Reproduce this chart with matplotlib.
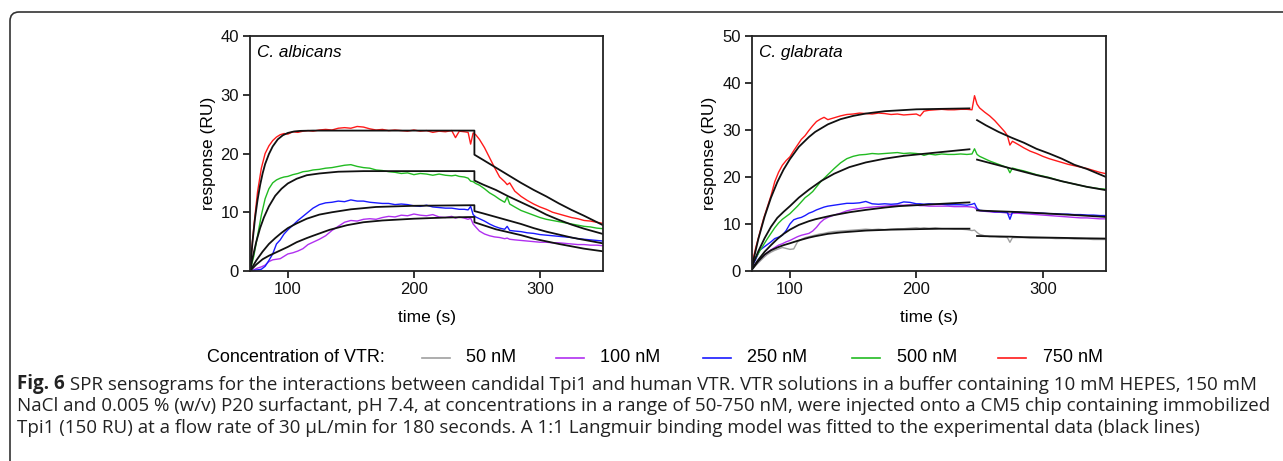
import matplotlib
matplotlib.use("Agg")
import matplotlib.pyplot as plt
from matplotlib.patches import FancyBboxPatch
from matplotlib.lines import Line2D
from matplotlib.text import Annotation

# ---------------- data ----------------
conc_labels = ["50 nM", "100 nM", "250 nM", "500 nM", "750 nM"]
conc_colors = ["#a0a0a0", "#b030f0", "#1a1aff", "#22bb22", "#ff1a1a"]

# Left panel: C. albicans -- experimental traces
T_L = [70, 73, 76, 79, 82, 85, 88, 91, 94, 97, 100, 104, 108, 112, 116, 120,
       125, 130, 135, 140, 145, 150, 155, 160, 165, 170, 175, 180, 185, 190,
       195, 200, 205, 210, 215, 220, 225, 230, 233, 236, 240, 243, 245, 247,
       249, 252, 256, 260, 264, 268, 272, 274, 276, 280, 285, 290, 295, 300,
       305, 310, 315, 320, 325, 330, 335, 340, 345, 350]
alb_750 = [0.2, 7.5, 13.5, 17.5, 20.0, 21.3, 22.2, 22.8, 23.2, 23.4, 23.3, 23.7,
           23.6, 23.8, 23.9, 23.8, 24.0, 24.1, 24.0, 24.3, 24.4, 24.3, 24.6, 24.5,
           24.2, 24.0, 24.1, 23.9, 24.0, 23.9, 23.8, 24.0, 23.8, 23.9, 23.6, 23.8,
           23.7, 23.9, 22.7, 23.8, 23.7, 23.6, 21.6, 23.5, 23.2, 22.4, 21.0, 19.3,
           17.6, 16.0, 15.2, 14.7, 15.0, 13.6, 12.7, 12.0, 11.4, 10.9, 10.5, 10.0,
           9.7, 9.4, 9.1, 8.9, 8.6, 8.5, 8.3, 8.1]
alb_500 = [0.0, 2.5, 6.0, 9.5, 12.3, 14.0, 15.0, 15.5, 15.8, 16.0, 16.1, 16.4,
           16.6, 16.9, 17.0, 17.2, 17.3, 17.5, 17.6, 17.8, 18.0, 18.1, 17.8, 17.6,
           17.5, 17.2, 17.1, 16.9, 16.8, 16.6, 16.7, 16.4, 16.6, 16.5, 16.3, 16.5,
           16.3, 16.2, 16.3, 16.1, 16.0, 15.8, 15.3, 15.2, 14.9, 14.6, 14.0, 13.3,
           12.8, 12.2, 11.7, 12.6, 11.4, 10.9, 10.3, 9.9, 9.5, 9.1, 8.8, 8.6, 8.4,
           8.2, 8.0, 7.8, 7.6, 7.5, 7.3, 7.2]
alb_250 = [0.0, 0.1, 0.2, 0.3, 0.8, 1.8, 2.9, 4.6, 5.3, 6.3, 7.0, 7.8, 8.6, 9.3,
           10.0, 10.7, 11.3, 11.6, 11.7, 11.9, 11.8, 12.1, 11.9, 11.9, 11.7, 11.6,
           11.5, 11.5, 11.3, 11.4, 11.3, 11.1, 11.0, 11.2, 10.9, 10.8, 10.7, 10.7,
           10.6, 10.5, 10.5, 10.4, 11.0, 9.6, 9.2, 8.9, 8.5, 8.0, 7.6, 7.3, 7.1,
           7.6, 6.9, 6.8, 6.7, 6.5, 6.4, 6.2, 6.1, 6.0, 5.9, 5.8, 5.7, 5.5, 5.4,
           5.3, 5.2, 5.1]
alb_100 = [0.0, 0.2, 0.5, 0.7, 1.0, 1.6, 1.9, 2.0, 2.1, 2.5, 2.9, 3.1, 3.4, 3.8,
           4.5, 4.9, 5.4, 6.0, 6.9, 7.6, 8.3, 8.6, 8.5, 8.8, 8.9, 8.8, 9.1, 9.3,
           9.2, 9.5, 9.4, 9.7, 9.5, 9.4, 9.6, 9.2, 9.1, 9.3, 9.0, 9.2, 9.0, 8.8,
           9.0, 8.0, 7.5, 6.8, 6.3, 6.0, 5.8, 5.7, 5.5, 5.6, 5.4, 5.3, 5.2, 5.1,
           5.0, 4.9, 4.9, 4.8, 4.8, 4.7, 4.6, 4.5, 4.5, 4.4, 4.4, 4.3]

# Left panel: 1:1 Langmuir fits (association / dissociation)
alb_fit750_t = [70, 72, 74, 76, 78, 80, 82, 85, 88, 92, 96, 100, 105, 110, 120, 130, 150, 248]
alb_fit750_y = [0, 5.0, 9.0, 12.1, 14.6, 16.6, 18.2, 19.9, 21.2, 22.4, 23.1, 23.5,
                23.75, 23.85, 23.9, 23.9, 23.9, 23.9]
alb_fit500_t = [70, 72, 75, 78, 81, 85, 90, 95, 100, 107, 115, 125, 140, 160, 248]
alb_fit500_y = [0, 2.2, 5.0, 7.3, 9.1, 11.0, 12.8, 14.0, 14.9, 15.7, 16.3, 16.6, 16.9, 17.0, 17.0]
alb_fit250_t = [70, 75, 80, 85, 90, 95, 100, 107, 115, 125, 135, 150, 170, 200, 248]
alb_fit250_y = [0, 1.8, 3.3, 4.6, 5.6, 6.5, 7.3, 8.1, 8.9, 9.6, 10.0, 10.5, 10.9, 11.1, 11.2]
alb_fit100_t = [70, 75, 80, 85, 90, 95, 100, 107, 115, 120, 133, 147, 160, 175, 200, 225, 248]
alb_fit100_y = [0, 1.1, 2.0, 2.6, 3.1, 3.6, 4.1, 4.9, 5.6, 6.0, 7.0, 7.8, 8.3, 8.6, 8.9, 9.1, 9.2]
alb_diss_t = [248, 255, 265, 275, 285, 295, 305, 315, 325, 335, 350]
alb_diss750 = [19.8, 18.9, 17.6, 16.3, 15.0, 13.8, 12.7, 11.5, 10.4, 9.4, 7.8]
alb_diss500 = [15.4, 14.7, 13.8, 12.7, 11.7, 10.7, 9.6, 8.7, 7.9, 7.2, 6.3]
alb_diss250 = [10.2, 9.8, 9.2, 8.6, 8.0, 7.3, 6.7, 6.2, 5.7, 5.3, 4.7]
alb_diss100 = [8.3, 7.8, 7.1, 6.6, 6.1, 5.5, 5.05, 4.6, 4.2, 3.8, 3.35]

# Right panel: C. glabrata -- experimental traces
T_R = [70, 73, 76, 79, 82, 85, 88, 91, 94, 97, 100, 103, 106, 109, 112, 115, 118,
       121, 124, 127, 130, 135, 140, 145, 150, 155, 160, 165, 170, 175, 180, 185,
       190, 195, 200, 203, 206, 210, 215, 220, 225, 230, 235, 240, 244, 246, 248,
       250, 254, 258, 262, 266, 270, 272, 274, 276, 280, 285, 290, 295, 300, 305,
       310, 315, 320, 325, 330, 335, 340, 345, 350]
gla_750 = [1.5, 5.0, 8.0, 11.0, 13.5, 16.0, 19.0, 21.0, 22.5, 23.5, 24.3, 25.6,
           26.8, 28.0, 28.8, 29.9, 30.9, 31.8, 32.3, 32.7, 32.2, 32.6, 33.0, 33.3,
           33.4, 33.6, 33.5, 33.4, 33.6, 33.5, 33.3, 33.4, 33.2, 33.3, 33.4, 33.0,
           34.0, 34.2, 34.3, 34.4, 34.3, 34.3, 34.4, 34.4, 34.3, 37.3, 35.5, 34.7,
           33.8, 33.0, 32.0, 30.8, 29.6, 28.8, 26.8, 27.6, 27.0, 26.2, 25.5, 25.0,
           24.4, 23.9, 23.5, 23.1, 22.7, 22.4, 22.1, 21.8, 21.4, 21.0, 20.7]
gla_500 = [1.5, 2.8, 4.2, 5.5, 6.8, 8.0, 9.2, 10.2, 11.0, 11.6, 12.2, 13.0, 13.8,
           14.7, 15.6, 16.2, 16.9, 17.9, 18.9, 19.7, 20.5, 21.8, 23.0, 23.9, 24.4,
           24.7, 24.8, 25.0, 24.9, 25.0, 25.1, 25.2, 25.0, 25.1, 25.0, 24.9, 24.6,
           24.9, 24.7, 24.9, 24.8, 24.8, 24.9, 24.8, 24.9, 26.0, 24.8, 24.4, 23.9,
           23.4, 23.0, 22.6, 22.2, 22.0, 20.9, 21.9, 21.6, 21.3, 20.9, 20.5, 20.2,
           19.9, 19.5, 19.1, 18.8, 18.5, 18.2, 17.9, 17.7, 17.5, 17.4]
gla_250 = [1.0, 2.5, 4.4, 5.0, 5.6, 6.2, 6.9, 7.2, 7.6, 8.6, 10.0, 10.9, 11.2,
           11.4, 11.8, 12.3, 12.6, 13.0, 13.3, 13.6, 13.8, 14.0, 14.2, 14.4, 14.4,
           14.5, 14.8, 14.3, 14.2, 14.3, 14.2, 14.3, 14.7, 14.6, 14.3, 14.3, 14.2,
           14.3, 14.2, 14.2, 14.1, 14.1, 14.1, 14.0, 14.2, 14.4, 13.3, 12.9, 12.8,
           12.7, 12.6, 12.6, 12.5, 12.4, 11.0, 12.5, 12.5, 12.4, 12.4, 12.3, 12.3,
           12.2, 12.2, 12.1, 12.1, 12.0, 12.0, 11.9, 11.9, 11.8, 11.8]
gla_100 = [0.5, 1.5, 2.4, 3.2, 3.9, 4.5, 5.0, 5.5, 5.8, 6.2, 6.5, 6.9, 7.3, 7.6,
           7.8, 8.0, 8.5, 9.3, 10.3, 11.0, 11.4, 11.9, 12.3, 12.8, 13.1, 13.3,
           13.5, 13.6, 13.7, 13.8, 13.9, 14.0, 14.0, 14.1, 14.0, 13.9, 13.9, 13.8,
           13.8, 13.8, 13.8, 13.7, 13.7, 13.7, 13.6, 13.5, 13.0, 12.8, 12.7, 12.6,
           12.5, 12.5, 12.4, 12.4, 12.0, 12.3, 12.3, 12.2, 12.1, 12.0, 11.9, 11.8,
           11.7, 11.6, 11.5, 11.4, 11.3, 11.3, 11.2, 11.1, 11.1]
gla_50 = [0.3, 1.2, 2.0, 2.8, 3.5, 4.0, 4.4, 4.7, 5.0, 4.8, 4.6, 4.7, 6.2, 6.7,
          7.1, 7.3, 7.5, 7.7, 7.9, 8.0, 8.2, 8.4, 8.5, 8.6, 8.7, 8.8, 8.9, 8.8,
          8.9, 8.8, 8.9, 9.0, 9.0, 9.1, 9.2, 9.1, 9.2, 9.1, 9.2, 9.0, 9.0, 8.9,
          8.9, 8.8, 8.6, 8.7, 8.2, 7.8, 7.5, 7.3, 7.3, 7.2, 7.2, 7.1, 6.1, 7.1,
          7.1, 7.1, 7.0, 7.0, 7.0, 7.0, 6.9, 6.9, 6.9, 6.8, 6.8, 6.8, 6.7, 6.7, 6.7]

# Right panel fits
gla_fit750_t = [70, 75, 80, 85, 90, 95, 100, 107, 115, 120, 130, 140, 150, 160, 175, 200, 220, 242]
gla_fit750_y = [1.0, 6.8, 11.6, 15.6, 18.9, 21.6, 23.8, 26.4, 28.5, 29.6, 31.2,
                32.3, 33.0, 33.5, 34.0, 34.4, 34.5, 34.6]
gla_fit500_t = [70, 75, 80, 85, 90, 95, 100, 107, 115, 125, 135, 147, 160, 175, 190, 212, 242]
gla_fit500_y = [1.0, 4.2, 7.0, 9.4, 11.3, 12.6, 13.8, 15.6, 17.3, 19.2, 20.7,
                22.1, 23.1, 23.9, 24.5, 25.1, 25.9]
gla_fit250_t = [70, 75, 80, 85, 90, 95, 100, 107, 115, 120, 133, 147, 160, 175, 186, 200, 213, 242]
gla_fit250_y = [0.5, 2.4, 4.1, 5.5, 6.8, 7.9, 8.8, 9.8, 10.6, 11.0, 11.8, 12.5,
                13.0, 13.5, 13.8, 14.0, 14.2, 14.6]
gla_fit50_t = [70, 75, 80, 85, 90, 95, 100, 107, 115, 120, 130, 140, 160, 180, 200, 220, 242]
gla_fit50_y = [0.3, 2.1, 3.5, 4.4, 5.0, 5.5, 5.9, 6.5, 7.1, 7.4, 7.9, 8.2, 8.6,
               8.8, 8.9, 9.0, 9.0]
gla_diss_t = [248, 255, 265, 275, 285, 295, 305, 315, 325, 335, 350]
gla_diss750 = [32.1, 31.0, 29.6, 28.4, 27.3, 26.0, 25.0, 23.9, 22.6, 21.7, 20.0]
gla_diss500 = [23.7, 23.2, 22.5, 21.8, 21.1, 20.4, 19.8, 19.1, 18.5, 17.9, 17.2]
gla_diss250 = [12.9, 12.8, 12.7, 12.6, 12.5, 12.35, 12.2, 12.05, 11.9, 11.75, 11.5]
gla_diss50 = [7.45, 7.4, 7.35, 7.3, 7.2, 7.15, 7.1, 7.05, 7.0, 6.95, 6.9]

x_ticks = [100, 200, 300]
alb_yticks = [0, 10, 20, 30, 40]
gla_yticks = [0, 10, 20, 30, 40, 50]

caption_bold = "Fig. 6"
caption_lines = [
    " SPR sensograms for the interactions between candidal Tpi1 and human VTR. VTR solutions in a buffer containing 10 mM HEPES, 150 mM",
    "NaCl and 0.005 % (w/v) P20 surfactant, pH 7.4, at concentrations in a range of 50-750 nM, were injected onto a CM5 chip containing immobilized",
    "Tpi1 (150 RU) at a flow rate of 30 \u00b5L/min for 180 seconds. A 1:1 Langmuir binding model was fitted to the experimental data (black lines)",
]

# ---------------- figure ----------------
W, H = 1283, 461
fig = plt.figure(figsize=(W / 100, H / 100), dpi=100)
SANS = ["Liberation Sans", "DejaVu Sans"]

# frame around figure (rounded top-left corner)
frame = FancyBboxPatch((0.10, -1.0), 14.0, (H - 12) / 100 + 1.0,
                       boxstyle="round,pad=0,rounding_size=0.09",
                       transform=fig.dpi_scale_trans, fill=False,
                       edgecolor="#333333", linewidth=1.2)
fig.patches.append(frame)

ax1 = fig.add_axes([250 / W, 190 / H, 353 / W, 235 / H])
ax2 = fig.add_axes([752 / W, 190 / H, 354 / W, 235 / H])

DLW = 1.0
FLW = 1.3
# left panel
ax1.plot(T_L, alb_100, color=conc_colors[1], lw=DLW)
ax1.plot(T_L, alb_250, color=conc_colors[2], lw=DLW)
ax1.plot(T_L, alb_500, color=conc_colors[3], lw=DLW)
ax1.plot(T_L, alb_750, color=conc_colors[4], lw=DLW)
for ft, fy, dy in [(alb_fit750_t, alb_fit750_y, alb_diss750),
                   (alb_fit500_t, alb_fit500_y, alb_diss500),
                   (alb_fit250_t, alb_fit250_y, alb_diss250),
                   (alb_fit100_t, alb_fit100_y, alb_diss100)]:
    ax1.plot(list(ft) + list(alb_diss_t), list(fy) + list(dy), color="#111111", lw=FLW)

# right panel
ax2.plot(T_R, gla_50, color=conc_colors[0], lw=DLW)
ax2.plot(T_R, gla_100, color=conc_colors[1], lw=DLW)
ax2.plot(T_R, gla_250, color=conc_colors[2], lw=DLW)
ax2.plot(T_R, gla_500, color=conc_colors[3], lw=DLW)
ax2.plot(T_R, gla_750, color=conc_colors[4], lw=DLW)
for ft, fy, dy in [(gla_fit750_t, gla_fit750_y, gla_diss750),
                   (gla_fit500_t, gla_fit500_y, gla_diss500),
                   (gla_fit250_t, gla_fit250_y, gla_diss250),
                   (gla_fit50_t, gla_fit50_y, gla_diss50)]:
    ax2.plot(ft, fy, color="#111111", lw=FLW)
    ax2.plot(gla_diss_t, dy, color="#111111", lw=FLW)

for ax, yt, title in [(ax1, alb_yticks, "C. albicans"), (ax2, gla_yticks, "C. glabrata")]:
    ax.set_xlim(70, 350)
    ax.set_ylim(yt[0], yt[-1])
    ax.set_xticks(x_ticks)
    ax.set_yticks(yt)
    ax.tick_params(direction="out", length=5, width=1.2, labelsize=12, pad=3,
                   colors="#111111")
    for lab in ax.get_xticklabels() + ax.get_yticklabels():
        lab.set_family(SANS)
    for sp in ax.spines.values():
        sp.set_linewidth(1.3)
        sp.set_color("#222222")
    ax.set_xlabel("time (s)", fontsize=12.5, family=SANS)
    ax.set_ylabel("response (RU)", fontsize=12.5, family=SANS)
    ax.xaxis.set_label_coords(0.5, -0.166)
    ax.text(0.02, 0.93, title, transform=ax.transAxes, fontsize=12.3,
            style="italic", family=SANS, va="center", ha="left")
ax1.yaxis.set_label_coords(-0.097, 0.5)
ax2.yaxis.set_label_coords(-0.099, 0.5)

# legend row
ly = 1 - 358 / H
fig.text(207 / W, ly, "Concentration of VTR:", fontsize=13, family=SANS,
         va="center", ha="left")
line_x0 = [422, 556, 703, 852, 998]
text_x0 = [466, 600, 747, 897, 1043]
for lx, tx, col, lab in zip(line_x0, text_x0, conc_colors, conc_labels):
    fig.add_artist(Line2D([lx / W, (lx + 28) / W], [ly, ly], color=col, lw=1.2,
                          transform=fig.transFigure))
    fig.text(tx / W, ly, lab, fontsize=13, family=SANS, va="center", ha="left")

# caption
CAPF = ["Open Sans", "DejaVu Sans"]
CAPS = 13.5
cap_y = [1 - 384 / H, 1 - 406 / H, 1 - 428 / H]
bold = fig.text(17 / W, cap_y[0], caption_bold, fontsize=CAPS, family=CAPF,
                weight="bold", va="center", ha="left", color="#222222")
fig.add_artist(Annotation(
    caption_lines[0], xy=(1, 0), xycoords=bold, va="bottom", ha="left",
    fontsize=CAPS, family=CAPF, color="#222222"))
for yy, txt in zip(cap_y[1:], caption_lines[1:]):
    fig.text(17 / W, yy, txt, fontsize=CAPS, family=CAPF, va="center",
             ha="left", color="#222222")

fig.savefig("out.png", dpi=100)
